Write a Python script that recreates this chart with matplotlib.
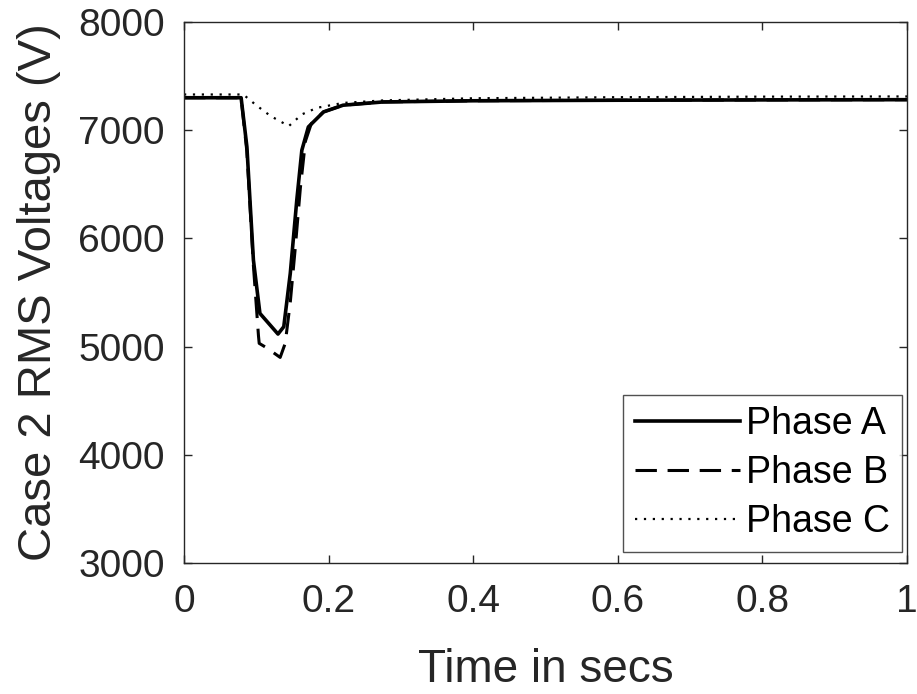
import matplotlib
matplotlib.use('Agg')
import matplotlib.pyplot as plt

# Phase A (solid)
t_a = [0, 0.079, 0.087, 0.096, 0.105, 0.130, 0.138, 0.147, 0.156, 0.163, 0.172,
       0.193, 0.22, 0.275, 0.4, 0.6, 0.8, 1.0]
v_a = [7300, 7300, 6846, 5800, 5307, 5116, 5184, 5677, 6354, 6815, 7030,
       7169, 7231, 7261, 7272, 7277, 7280, 7282]

# Phase B (dashed)
t_b = [0, 0.079, 0.087, 0.096, 0.103, 0.104, 0.114, 0.133, 0.140, 0.147, 0.154,
       0.161, 0.168, 0.176, 0.193, 0.22, 0.275, 0.4, 0.6, 0.8, 1.0]
v_b = [7300, 7300, 6800, 5750, 5100, 5030, 4990, 4900, 5030, 5410, 5920,
       6470, 6900, 7060, 7169, 7231, 7261, 7272, 7277, 7280, 7282]

# Phase C (dotted)
t_c = [0, 0.082, 0.10, 0.12, 0.145, 0.163, 0.184, 0.22, 0.275, 0.4, 0.6, 0.8, 1.0]
v_c = [7330, 7330, 7230, 7130, 7038, 7146, 7207, 7252, 7275, 7295, 7305, 7310, 7312]

plt.rcParams['font.family'] = ['Liberation Sans', 'DejaVu Sans']
dark = '#262626'

fig = plt.figure(figsize=(9.17, 6.94), dpi=100)
ax_l, ax_r, ax_t, ax_b = 184, 907, 22, 563
ax = fig.add_axes([ax_l / 917, 1 - ax_b / 694, (ax_r - ax_l) / 917, (ax_b - ax_t) / 694])

ax.plot(t_a, v_a, color='black', linewidth=2.6, linestyle='-', label='Phase A')
ax.plot(t_b, v_b, color='black', linewidth=2.2, linestyle=(0, (7, 3.5)), label='Phase B')
ax.plot(t_c, v_c, color='black', linewidth=1.6, linestyle=(0, (1, 3)), label='Phase C')

ax.set_xlim(0, 1)
ax.set_ylim(3000, 8000)
ax.set_xticks([0, 0.2, 0.4, 0.6, 0.8, 1])
ax.set_xticklabels(['0', '0.2', '0.4', '0.6', '0.8', '1'])
ax.set_yticks([3000, 4000, 5000, 6000, 7000, 8000])
ax.tick_params(direction='in', top=True, right=True, labelsize=28, length=6,
               width=1, color=dark, labelcolor=dark)
ax.tick_params(axis='x', pad=15)
ax.tick_params(axis='y', pad=14)
for s in ax.spines.values():
    s.set_color(dark)
    s.set_linewidth(1)

ax.set_xlabel('Time in secs', fontsize=33, color=dark, labelpad=20)
ax.set_ylabel('Case 2 RMS Voltages (V)', fontsize=34, color=dark, labelpad=12)

leg = ax.legend(loc='lower right', fontsize=27, frameon=True, fancybox=False,
                handlelength=2.8, handletextpad=0.15, borderpad=0.32,
                labelspacing=0.34, borderaxespad=0,
                bbox_to_anchor=((902 - ax_l) / (ax_r - ax_l), (ax_b - 552) / (ax_b - ax_t)))
leg.get_frame().set_edgecolor(dark)
leg.get_frame().set_linewidth(1)

fig.savefig('out.png', dpi=100)
